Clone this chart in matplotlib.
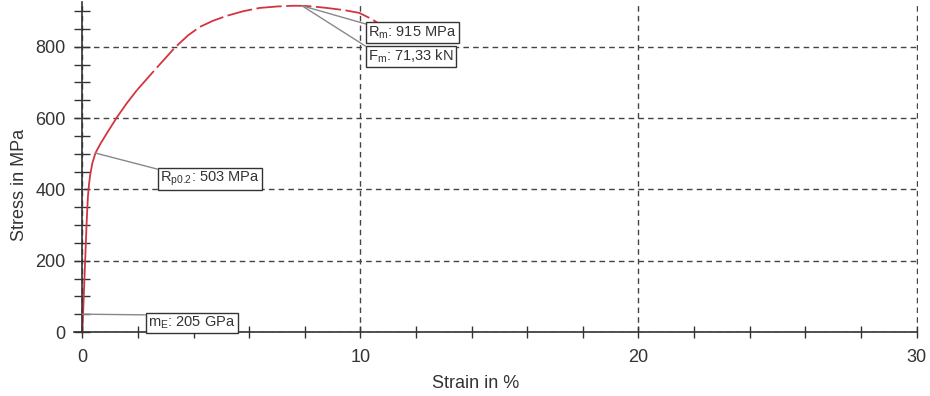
import numpy as np
import matplotlib.pyplot as plt
from matplotlib.ticker import MultipleLocator

plt.rcParams['font.family'] = ['Liberation Sans', 'DejaVu Sans']
plt.rcParams['mathtext.fontset'] = 'custom'
plt.rcParams['mathtext.rm'] = 'Liberation Sans'
plt.rcParams['mathtext.default'] = 'regular'

# curve (strain in %, stress in MPa)
strain = [0, 0.04, 0.08, 0.12, 0.15, 0.18, 0.2, 0.24, 0.28, 0.36, 0.47, 0.65, 0.9, 1.25, 1.6, 1.97]
stress = [0, 80, 160, 240, 300, 350, 380, 415, 440, 474, 502, 528, 560, 603, 642, 679]
strain_hi = [1.97, 2.4, 2.8, 3.33, 3.8, 4.23, 4.7, 5.2, 5.8, 6.38, 7.0, 7.56, 7.9, 8.3, 8.78, 9.4, 9.96, 10.4, 10.6]
stress_hi = [679, 717, 752, 798, 832, 856, 873, 887, 900, 909, 913, 915, 915, 913, 909, 903, 895, 878, 868]

# labels: (text, point on curve, top-left of box)
labels = [r'R$_{m}$: 915 MPa', r'F$_{m}$: 71,33 kN', r'R$_{p0.2}$: 503 MPa', r'm$_{E}$: 205 GPa']
label_pts = [(7.9, 915), (7.9, 915), (0.47, 502), (0.0, 50)]
label_box = [(10.18, 870), (10.18, 805), (2.69, 463), (2.26, 56)]

red = '#d23540'
grey = '#333333'

fig = plt.figure(figsize=(9.3, 3.96), dpi=100)
ax = fig.add_axes([0.0796, 0.1616, 0.9074, 0.8328])

ax.plot(strain, stress, color=red, lw=1.3, solid_capstyle='butt')
ax.plot(strain_hi, stress_hi, color=red, lw=1.3, dashes=(14, 2.5))

for txt, pt, box in zip(labels, label_pts, label_box):
    ax.annotate(txt, xy=pt, xytext=(box[0] + 0.1, box[1] - 8),
                textcoords='data', ha='left', va='top', fontsize=10.5, color=grey,
                bbox=dict(boxstyle='square,pad=0.15', fc='white', ec=grey, lw=1),
                arrowprops=dict(arrowstyle='-', color='#888888', lw=1,
                                shrinkA=0, shrinkB=0, relpos=(0, 1)),
                zorder=5)

ax.set_xlim(-0.3, 30.05)
ax.set_ylim(0, 925)
ax.xaxis.set_major_locator(MultipleLocator(10))
ax.xaxis.set_minor_locator(MultipleLocator(2))
ax.yaxis.set_major_locator(MultipleLocator(200))
ax.yaxis.set_minor_locator(MultipleLocator(50))

for s in ['top', 'right']:
    ax.spines[s].set_visible(False)
for s in ['left', 'bottom']:
    ax.spines[s].set_color(grey)
    ax.spines[s].set_linewidth(1.2)
ax.spines['left'].set_position(('data', 0))
ax.spines['bottom'].set_bounds(-0.3, 30)

ax.tick_params(axis='x', which='both', direction='inout', length=8, width=1, color=grey,
               labelsize=13, labelcolor=grey, pad=8)
ax.tick_params(axis='y', which='both', direction='inout', length=12, width=1, color=grey,
               labelsize=13, labelcolor=grey, pad=6)

ax.grid(True, which='major', color='#444444', lw=1, dashes=(4, 3))
ax.set_axisbelow(True)

ax.set_xlabel('Strain in %', fontsize=13, color=grey)
ax.set_ylabel('Stress in MPa', fontsize=13, color=grey)
ax.xaxis.set_label_coords(0.476, -0.13)
ax.yaxis.set_label_coords(-0.054, 0.445)

fig.savefig('out.png', dpi=100)
